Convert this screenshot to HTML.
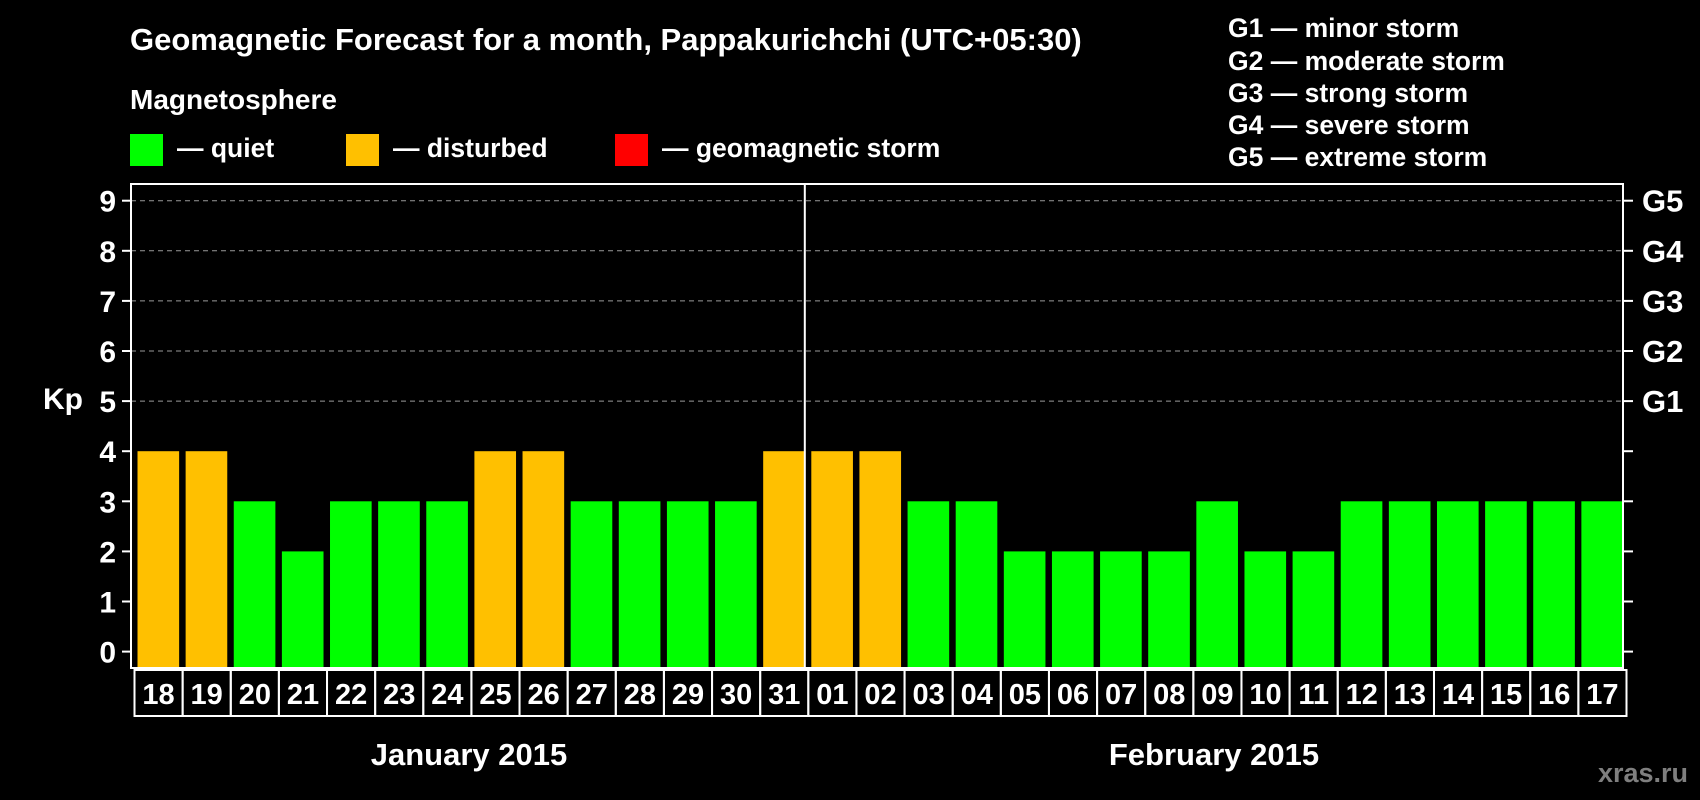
<!DOCTYPE html>
<html><head><meta charset="utf-8"><style>
html,body{margin:0;padding:0;background:#000;}
svg{display:block;font-family:"Liberation Sans",Arial,sans-serif;font-weight:bold;}
</style></head><body>
<svg id="chart" width="1700" height="800" viewBox="0 0 1700 800">
<text x="130" y="50" fill="#fff" font-size="31">Geomagnetic Forecast for a month, Pappakurichchi (UTC+05:30)</text>
<text x="130" y="109" fill="#fff" font-size="28">Magnetosphere</text>
<rect x="130" y="134" width="33" height="32" fill="#00ff00"/>
<text x="177" y="157" fill="#fff" font-size="26.5">— quiet</text>
<rect x="346" y="134" width="33" height="32" fill="#ffc000"/>
<text x="393" y="157" fill="#fff" font-size="26.5">— disturbed</text>
<rect x="615" y="134" width="33" height="32" fill="#ff0000"/>
<text x="662" y="157" fill="#fff" font-size="26.5">— geomagnetic storm</text>
<g fill="#fff" font-size="26.5">
<text x="1228" y="37">G1 — minor storm</text>
<text x="1228" y="70">G2 — moderate storm</text>
<text x="1228" y="102">G3 — strong storm</text>
<text x="1228" y="134">G4 — severe storm</text>
<text x="1228" y="166">G5 — extreme storm</text>
</g>
<text x="43" y="409" fill="#fff" font-size="30">Kp</text>
<g id="grid"></g>
<g id="bars"></g>
<g id="axes"></g>
<text x="469" y="765" fill="#fff" font-size="31" text-anchor="middle">January 2015</text>
<text x="1214" y="765" fill="#fff" font-size="31" text-anchor="middle">February 2015</text>
<text x="1688" y="782" fill="#7f7f7f" font-size="27" text-anchor="end">xras.ru</text>
</svg>
<script>
const days = ["18","19","20","21","22","23","24","25","26","27","28","29","30","31","01","02","03","04","05","06","07","08","09","10","11","12","13","14","15","16","17"];
const kpValues = [4,4,3,2,3,3,3,4,4,3,3,3,3,4,4,4,3,3,2,2,2,2,3,2,2,3,3,3,3,3,3];
const yTicks = [0,1,2,3,4,5,6,7,8,9];
const gLabels = ["G1","G2","G3","G4","G5"];
const gLevels = [5,6,7,8,9];
const monthSplit = 14;

const NS="http://www.w3.org/2000/svg";
const L=131,R=1623,T=184,B=668;
const y=v=>651.6-v*50.1;
const pitch=(R-L)/days.length;
const x=i=>L+i*pitch;
function mk(t,a,p){const e=document.createElementNS(NS,t);for(const k in a)e.setAttribute(k,a[k]);p.appendChild(e);return e;}
const grid=document.getElementById('grid'),bars=document.getElementById('bars'),axes=document.getElementById('axes');
gLevels.forEach((v,i)=>{
 const l=mk('line',{x1:L,x2:R,y1:y(v),y2:y(v),stroke:'#999','stroke-dasharray':'5,4','stroke-width':1},grid);
 
 
 const t=mk('text',{x:1642,y:y(v)+11,fill:'#fff','font-size':31},axes);
 t.textContent=gLabels[i];
 
 
});
kpValues.forEach((v,i)=>{
 const c=v>=5?'#ff0000':(v>=4?'#ffc000':'#00ff00');
 const r=mk('rect',{x:x(i)+6.5,y:y(v),width:pitch-6.5,height:B-y(v),fill:c},bars);
 
 
 const b=mk('rect',{x:x(i)+3.5,y:670,width:pitch,height:46,fill:'none',stroke:'#fff','stroke-width':2},axes);
 
 
 const t=mk('text',{x:x(i)+3.5+pitch/2,y:704,fill:'#fff','font-size':29,'text-anchor':'middle'},axes);
 t.textContent=days[i];
 
 
});
const f=mk('rect',{x:L,y:T,width:R-L,height:B-T,fill:'none',stroke:'#fff','stroke-width':2},axes);


const d=mk('line',{x1:x(monthSplit),x2:x(monthSplit),y1:T,y2:B,stroke:'#fff','stroke-width':2},axes);


yTicks.forEach(v=>{
 const a=mk('line',{x1:122,x2:L,y1:y(v),y2:y(v),stroke:'#fff','stroke-width':2},axes);
 
 
 const b=mk('line',{x1:R,x2:1633,y1:y(v),y2:y(v),stroke:'#fff','stroke-width':2},axes);
 
 
 const t=mk('text',{x:116,y:y(v)+11,fill:'#fff','font-size':30,'text-anchor':'end'},axes);
 t.textContent=v;
 
 
});
</script>
</body></html>
